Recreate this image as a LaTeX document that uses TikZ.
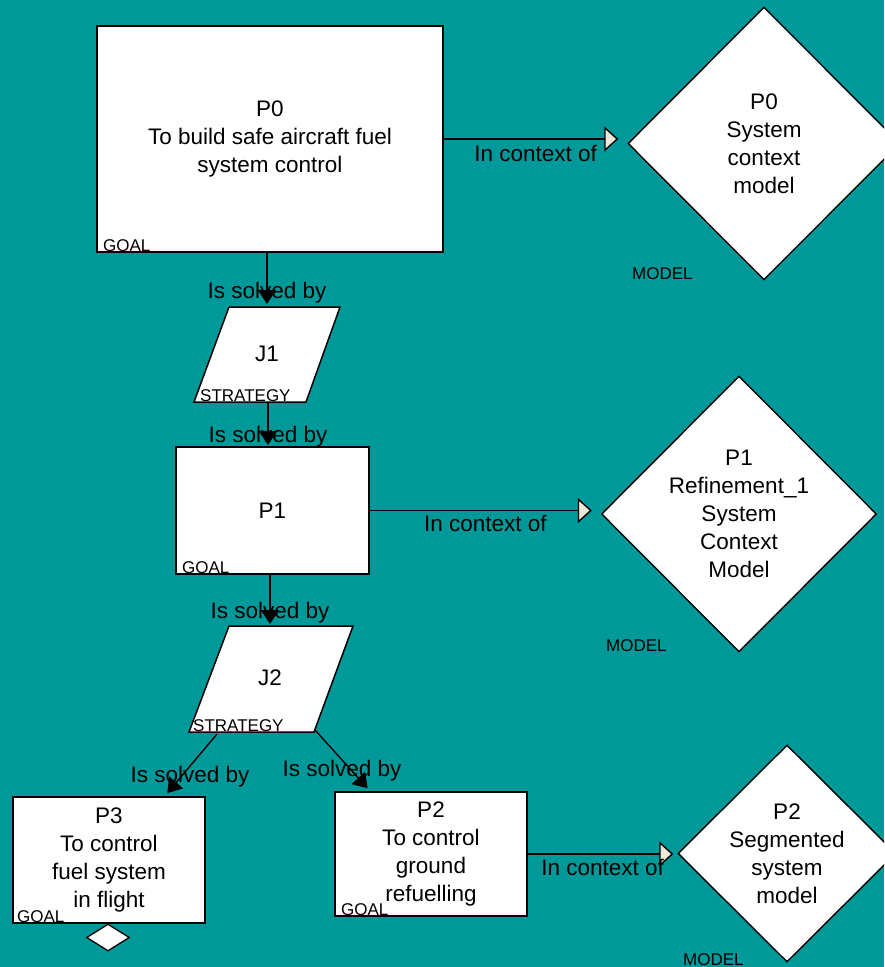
\documentclass[tikz,border=0pt]{standalone}
\usepackage{fontspec}
\setmainfont{Liberation Sans}
\usetikzlibrary{arrows.meta,shapes.geometric}
\definecolor{bgteal}{RGB}{0,153,153}
\definecolor{cream}{RGB}{236,233,216}
\begin{document}
\begin{tikzpicture}[x=1pt,y=-1pt,
  txt/.style={font=\fontsize{22.5}{28}\selectfont, align=center, text=black},
  small/.style={font=\fontsize{17}{18}\selectfont, inner sep=0pt, anchor=base west, text=black},
  goalbox/.style={rectangle, draw=black, line width=2pt, fill=white, inner sep=0pt, txt},
  modeldia/.style={diamond, draw=black, line width=1.4pt, fill=white, inner sep=0pt, txt},
  stratshape/.style={draw=black, line width=1.5pt, fill=white},
  solved/.style={-{Triangle[width=18pt,length=14pt]}, line width=1.4pt, draw=black},
  context/.style={-{Triangle[width=25pt,length=14pt,fill=cream]}, line width=1.4pt, draw=black},
  lbl/.style={txt, inner sep=0pt}
]
\fill[bgteal] (0,0) rectangle (884,967);
\useasboundingbox (0,0) rectangle (884,967);
\clip (0,0) rectangle (884,967);

% ---- goals ----
\node[goalbox, minimum width=346pt, minimum height=226pt] (P0) at (270,139)
  {P0\\To build safe aircraft fuel\\system control};
\node[small] (P0g) at (103,251) {GOAL};

\node[goalbox, minimum width=193pt, minimum height=127pt] (P1) at (272.5,510.5) {P1};
\node[small] (P1g) at (182,573) {GOAL};

\node[goalbox, minimum width=192pt, minimum height=126pt] (P3) at (109,860)
  {P3\\To control\\fuel system\\in flight};
\node[small] (P3g) at (17,922) {GOAL};
\node[diamond, draw=black, line width=1.3pt, fill=white, inner sep=0pt,
      minimum width=43pt, minimum height=27pt] (P3d) at (108,937.5) {};

\node[goalbox, minimum width=192pt, minimum height=124pt] (P2) at (431,854)
  {P2\\To control\\ground\\refuelling};
\node[small] (P2g) at (341,915) {GOAL};

% ---- models ----
\node[modeldia, minimum width=272pt, minimum height=273pt] (M0) at (764,143.5)
  {P0\\System\\context\\model};
\node[small] (M0g) at (632,279) {MODEL};

\node[modeldia, minimum width=275pt, minimum height=276pt] (M1) at (739,514)
  {P1\\Refinement\_1\\System\\Context\\Model};
\node[small] (M1g) at (606,651) {MODEL};

\node[modeldia, minimum width=218pt, minimum height=217pt] (M2) at (787,853.5)
  {P2\\Segmented\\system\\model};
\node[small] (M2g) at (683,965) {MODEL};

% ---- strategies ----
\draw[stratshape] (229,307) -- (340,307) -- (306,402) -- (194,402) -- cycle;
\node[txt] (J1) at (267,354) {J1};
\node[small] (J1g) at (200,401) {STRATEGY};
\coordinate (J1top) at (267,307);
\coordinate (J1bot) at (268,402);

\draw[stratshape] (229,626) -- (353,626) -- (314,732) -- (189,732) -- cycle;
\node[txt] (J2) at (270,678) {J2};
\node[small] (J2g) at (193,731) {STRATEGY};
\coordinate (J2top) at (270,626);
\coordinate (J2bl) at (217,734);
\coordinate (J2br) at (315,730);
\coordinate (P3in) at (164,797);
\coordinate (P2in) at (371,792);

% ---- is solved by ----
\draw[solved, shorten >=3pt] (P0.south -| J1top) -- (J1top)
  node[lbl, pos=0.73] {Is solved by};
\draw[solved, shorten >=1pt] (J1bot) -- (J1bot |- P1.north)
  node[lbl, pos=0.78] {Is solved by};
\draw[solved, shorten >=2pt] (P1.south -| J2top) -- (J2top)
  node[lbl, pos=0.73] {Is solved by};
\draw[solved, shorten >=5pt] (J2bl) -- (P3in)
  node[lbl, pos=0.68, xshift=9pt] {Is solved by};
\draw[solved, shorten >=5pt] (J2br) -- (P2in)
  node[lbl, pos=0.66, xshift=-10pt] {Is solved by};

% ---- in context of ----
\draw[context, shorten >=9pt] (P0.east) -- (P0.east -| M0.west)
  node[lbl, midway, below=6pt] {In context of};
\draw[context, shorten >=9pt] (P1.east) -- (P1.east -| M1.west)
  node[lbl, midway, below=4pt] {In context of};
\draw[context, shorten >=4pt] (P2.east) -- (P2.east -| M2.west)
  node[lbl, midway, below=5pt] {In context of};
\end{tikzpicture}
\end{document}
